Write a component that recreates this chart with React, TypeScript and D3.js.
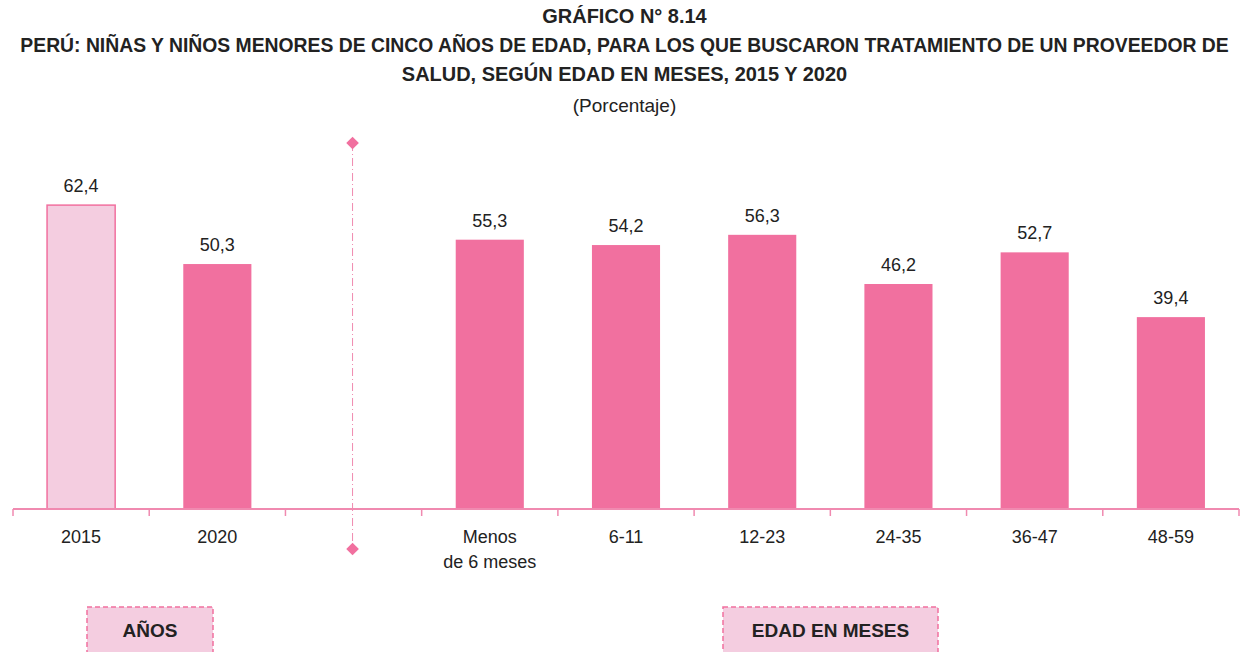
import React from 'react';
import * as d3 from 'd3';

// categories ("" is the gap that holds the divider)
const categories = ['2015', '2020', '', 'Menos\nde 6 meses', '6-11', '12-23', '24-35', '36-47', '48-59'];
const values = [62.4, 50.3, null, 55.3, 54.2, 56.3, 46.2, 52.7, 39.4];
const lightBars = ['2015'];
const titleLines = [
  'GRÁFICO N° 8.14',
  'PERÚ: NIÑAS Y NIÑOS MENORES DE CINCO AÑOS DE EDAD, PARA LOS QUE BUSCARON TRATAMIENTO DE UN PROVEEDOR DE',
  'SALUD, SEGÚN EDAD EN MESES, 2015 Y 2020',
];
const subtitle = '(Porcentaje)';
const groupLabels = [
  { text: 'AÑOS', x0: 87, x1: 213 },
  { text: 'EDAD EN MESES', x0: 723, x1: 938 },
];

const W = 1249;
const H = 652;
const FONT = "'Liberation Sans Narrow', 'Arial Narrow', 'Liberation Sans', sans-serif";
const PINK = '#F1709F';
const LIGHT = '#F4CDE0';
const AXIS = '#F08AB0';

export default function App() {
  const x = d3.scaleBand<string>().domain(categories.map((c, i) => i + '')).range([13, 1239]).paddingInner(0.5).paddingOuter(0.25);
  const y = d3.scaleLinear().domain([0, 70]).range([509, 509 - 70 * 4.87]);
  const step = x.step();
  const bw = x.bandwidth();
  const divX = (x('2') as number) + bw / 2 - 1;
  const diamond = d3.symbol().type(d3.symbolSquare).size(80)() as string;

  return (
    <svg width={W} height={H} style={{ position: 'absolute', left: 0, top: 0 }}>
      <g fontFamily={FONT} fill="#222" textAnchor="middle">
        {titleLines.map((t, i) => (
          <text key={i} x={0} y={0} fontSize={18} fontWeight="bold"
            transform={`translate(${W / 2},${23 + i * 29}) scale(${i === 1 ? 1.075 : 1.11},1.1)`}>{t}</text>
        ))}
        <text x={W / 2} y={112} fontSize={19}>{subtitle}</text>
      </g>

      {/* divider */}
      <line x1={divX} x2={divX} y1={143} y2={549} stroke={AXIS} strokeWidth={1} strokeDasharray="8,3,1,3" />
      <path d={diamond} transform={`translate(${divX},143) rotate(45)`} fill={PINK} />
      <path d={diamond} transform={`translate(${divX},549) rotate(45)`} fill={PINK} />

      {/* bars */}
      {values.map((v, i) => {
        if (v == null) return null;
        const bx = x(i + '') as number;
        const light = lightBars.includes(categories[i]);
        return (
          <g key={i}>
            <rect x={bx} y={y(v)} width={bw} height={y(0) - y(v)}
              fill={light ? LIGHT : PINK} stroke={light ? PINK : 'none'} strokeWidth={1.5} />
            <text x={bx + bw / 2} y={y(v) - 13} textAnchor="middle" fontFamily={FONT} fontSize={18} fill="#222">
              {v.toFixed(1).replace('.', ',')}
            </text>
          </g>
        );
      })}

      {/* axis */}
      <line x1={13} x2={1239} y1={509} y2={509} stroke={AXIS} strokeWidth={2} />
      {d3.range(categories.length + 1).map((i) => (
        <line key={i} x1={13 + i * step} x2={13 + i * step} y1={509} y2={516} stroke={AXIS} strokeWidth={1.5} />
      ))}
      {categories.map((c, i) => (
        <text key={i} textAnchor="middle" fontFamily={FONT} fontSize={18} fill="#222">
          {c.split('\n').map((line, j) => (
            <tspan key={j} x={(x(i + '') as number) + bw / 2} y={543 + j * 25}>{line}</tspan>
          ))}
        </text>
      ))}

      {/* group labels */}
      {groupLabels.map((g) => (
        <g key={g.text}>
          <rect x={g.x0} y={607} width={g.x1 - g.x0} height={46} fill={LIGHT} stroke={PINK} strokeWidth={1.5} strokeDasharray="5,3" />
          <text x={(g.x0 + g.x1) / 2} y={637} textAnchor="middle" fontFamily={FONT} fontSize={19} fontWeight="bold" fill="#222">{g.text}</text>
        </g>
      ))}
    </svg>
  );
}
